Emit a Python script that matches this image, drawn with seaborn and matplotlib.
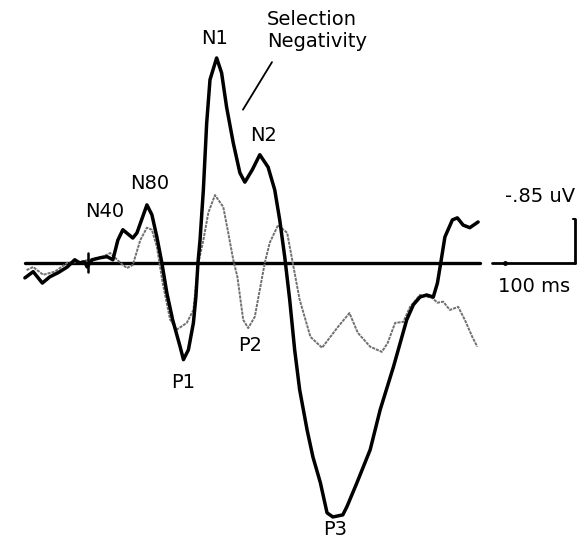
import numpy as np
import pandas as pd
import matplotlib
matplotlib.use("Agg")
import matplotlib.pyplot as plt
import seaborn as sns

# ---- data: time (ms) and amplitude (uV, negative plotted upward) ----
attended_t = [-76, -66, -55, -46, -36, -25, -16, -10, -4, -1,
              5, 15, 23, 30, 36, 42, 54, 59, 71, 77,
              83, 89, 95, 102, 111, 115, 121, 127, 130, 132.5,
              135, 139, 143, 147, 155, 161, 167, 175, 183, 189,
              198, 207, 217, 225, 231, 237, 243, 249, 255, 264,
              271, 280, 288, 295, 307, 312, 324, 340, 352, 368,
              384, 392, 400, 408, 416, 421, 425, 430, 439, 445,
              452, 460, 470]
attended_v = [0.29, 0.17, 0.39, 0.27, 0.19, 0.08, -0.06, 0.00, -0.02, 0.08,
              -0.06, -0.10, -0.12, -0.06, -0.44, -0.64, -0.48, -0.58, -1.12, -0.93,
              -0.50, 0.00, 0.58, 1.10, 1.62, 1.87, 1.68, 1.16, 0.66, 0.00,
              -0.44, -1.41, -2.70, -3.54, -3.96, -3.67, -3.01, -2.32, -1.74, -1.56,
              -1.80, -2.09, -1.85, -1.41, -0.83, -0.12, 0.71, 1.68, 2.45, 3.23,
              3.75, 4.25, 4.83, 4.91, 4.87, 4.71, 4.25, 3.61, 2.84, 2.01,
              1.10, 0.81, 0.66, 0.62, 0.66, 0.39, 0.00, -0.50, -0.83, -0.87,
              -0.73, -0.68, -0.79]

unattended_t = [-74, -66, -54, -40, -25, -10, 2, 15, 27, 39,
                47, 54, 63, 71, 77, 83, 90, 99, 107, 119,
                127, 133, 139, 145, 153, 163, 169, 175, 180, 187,
                193, 201, 207, 213, 219, 229, 240, 246, 255, 268,
                282, 292, 301, 315, 325, 340, 354, 361, 370, 380,
                388, 400, 415, 421, 428, 436, 446, 454, 463, 469]
unattended_v = [0.14, 0.08, 0.23, 0.17, 0.00, -0.02, -0.06, -0.10, -0.19, 0.00,
                0.10, 0.04, -0.44, -0.68, -0.64, -0.31, 0.39, 1.10, 1.29, 1.16,
                0.91, 0.00, -0.44, -0.97, -1.31, -1.08, -0.58, -0.06, 0.27, 1.10,
                1.26, 1.04, 0.52, 0.00, -0.39, -0.73, -0.58, -0.06, 0.71, 1.43,
                1.64, 1.43, 1.24, 0.97, 1.35, 1.62, 1.72, 1.55, 1.16, 1.14,
                0.85, 0.62, 0.68, 0.77, 0.75, 0.91, 0.85, 1.10, 1.43, 1.62]

baseline_t = [-76, 472]
baseline_v = [0.0, 0.0]

scale_ms = 100
scale_uv = 0.85

peak_labels = ["N40", "N80", "N1", "N2", "P1", "P2", "P3"]

# ---- figure ----
sns.set_style("white")
plt.rcParams['font.family'] = ['DejaVu Sans']
plt.rcParams['text.color'] = 'black'
plt.rcParams['lines.solid_joinstyle'] = 'round'
plt.rcParams['lines.solid_capstyle'] = 'round'
plt.rcParams['lines.dash_joinstyle'] = 'round'

fig = plt.figure(figsize=(5.86, 5.48), dpi=100)
ax = fig.add_axes([0, 0, 1, 1])

df_a = pd.DataFrame({"t": attended_t, "v": attended_v})
df_u = pd.DataFrame({"t": unattended_t, "v": unattended_v})
df_b = pd.DataFrame({"t": baseline_t, "v": baseline_v})

sns.lineplot(data=df_b, x="t", y="v", ax=ax, color="black", lw=2.4, sort=False)
sns.lineplot(data=df_u, x="t", y="v", ax=ax, color="#707070", lw=1.4, sort=False,
             linestyle=(0, (1.6, 0.5)))
sns.lineplot(data=df_a, x="t", y="v", ax=ax, color="black", lw=2.5, sort=False)

# stimulus-onset tick
ax.plot([0, 0], [-0.19, 0.17], color="black", lw=1.8)

# scale bar
sx0 = 487
ax.plot([sx0, sx0 + scale_ms], [0, 0], color="black", lw=2.0)
ax.plot([sx0 + 15], [0], marker="o", ms=2.5, color="black")
ax.plot([sx0 + scale_ms, sx0 + scale_ms], [0, -scale_uv], color="black", lw=2.0)
ax.plot([sx0 + scale_ms - 3, sx0 + scale_ms], [-scale_uv, -scale_uv], color="black", lw=1.5)
ax.text(sx0 + scale_ms, -1.28, "-.85 uV", ha="right", va="center", fontsize=14, color="black")
ax.text(538, 0.46, "100 ms", ha="center", va="center", fontsize=14, color="black")

# peak labels
label_pos = [(20.5, -1.00), (74.7, -1.53), (153.0, -4.33), (212.0, -2.47),
             (114.5, 2.32), (195.2, 1.60), (297.6, 5.16)]
for lab, (tx, ty) in zip(peak_labels, label_pos):
    ax.text(tx, ty, lab, ha="center", va="center", fontsize=14, color="black")

ax.text(215.7, -4.50, "Selection\nNegativity", ha="left", va="center", fontsize=14,
        linespacing=1.2, color="black")
ax.plot([221.7, 186.7], [-3.88, -2.96], color="black", lw=1.3)

ax.set_xlim(-106, 600)
ax.set_ylim(5.51, -5.08)
ax.set_axis_off()

fig.savefig("out.png", dpi=100, facecolor="white")
